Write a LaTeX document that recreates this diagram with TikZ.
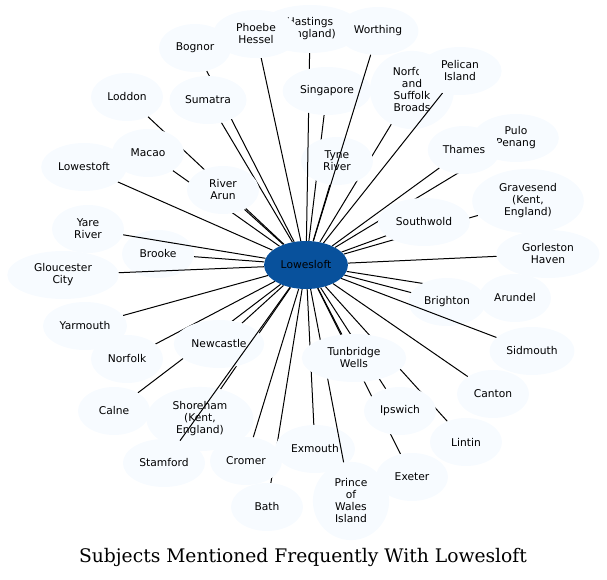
\documentclass[tikz,border=0pt]{standalone}
\usepackage{fontspec}
\usetikzlibrary{shapes.geometric}
\newfontfamily\placefont{DejaVu Sans}
\newfontfamily\captionfont{DejaVu Serif}
\definecolor{leaf}{HTML}{F7FBFF}
\definecolor{hubblue}{HTML}{08519C}
\pgfdeclarelayer{links}
\pgfdeclarelayer{under}
\pgfdeclarelayer{over}
\pgfdeclarelayer{front}
\pgfsetlayers{links,under,over,main,front}
\tikzset{
 place/.style={ellipse,fill=leaf,minimum width=72pt,minimum height=48pt,inner xsep=4.4pt,inner ysep=2pt,font=\placefont\fontsize{10.7}{12}\selectfont},
 multiplace/.style={place,align=center,inner xsep=10.5pt,inner ysep=5.5pt},
 hub/.style={place,fill=hubblue},
 link/.style={line width=1pt},
 caption/.style={font=\captionfont\fontsize{18.7}{22}\selectfont}
}
\begin{document}
\begin{tikzpicture}[x=1pt,y=-1pt]
\useasboundingbox (0,0) rectangle (607,580);
% places that some links run across
\begin{pgfonlayer}{under}
\node[multiplace] (hastings) at (310,29) {Hastings\\(England)};
\node[multiplace] (broads) at (412,90) {Norfolk\\and\\Suffolk\\Broads};
\node[multiplace] (tyne) at (337,161) {Tyne\\River};
\node[multiplace] (pulo) at (516,138) {Pulo\\Penang};
\node[place] (brooke) at (158,254) {Brooke};
\node[place] (brighton) at (447,302) {Brighton};
\node[place] (newcastle) at (219,344) {Newcastle};
\node[multiplace] (shoreham) at (200,419) {Shoreham\\(Kent,\\England)};
\node[place] (exmouth) at (315,449) {Exmouth};
\end{pgfonlayer}
% hub
\node[hub] (lowesloft) at (306,265) {Lowesloft};
% the other places
\node[place] (bognor) at (195,48) {Bognor};
\node[multiplace] (phoebe) at (256,34) {Phoebe\\Hessel};
\node[place] (worthing) at (378,31) {Worthing};
\node[place] (singapore) at (327,91) {Singapore};
\node[place] (sumatra) at (208,100) {Sumatra};
\node[place] (loddon) at (127,97) {Loddon};
\node[multiplace] (pelican) at (460,71) {Pelican\\Island};
\node[place] (macao) at (148,153) {Macao};
\node[place] (lowestoft) at (84,167) {Lowestoft};
\node[multiplace] (arun) at (223,190) {River\\Arun};
\node[place] (thames) at (464,150) {Thames};
\node[multiplace] (gravesend) at (528,201) {Gravesend\\(Kent,\\England)};
\node[place] (southwold) at (424,222) {Southwold};
\node[multiplace] (gorleston) at (548,254) {Gorleston\\Haven};
\node[multiplace] (yare) at (88,229) {Yare\\River};
\node[multiplace] (gloucester) at (63,275) {Gloucester\\City};
\node[place] (arundel) at (515,298) {Arundel};
\node[place] (yarmouth) at (85,326) {Yarmouth};
\node[place] (norfolk) at (127,359) {Norfolk};
\node[multiplace] (tunbridge) at (354,358) {Tunbridge\\Wells};
\node[place] (sidmouth) at (532,351) {Sidmouth};
\node[place] (canton) at (493,394) {Canton};
\node[place] (calne) at (114,411) {Calne};
\node[place] (ipswich) at (400,411) {Ipswich};
\node[place] (lintin) at (466,442) {Lintin};
\node[place] (stamford) at (164,463) {Stamford};
\node[place] (cromer) at (246,461) {Cromer};
\node[place] (exeter) at (412,477) {Exeter};
\node[place] (bath) at (267,507) {Bath};
\node[multiplace] (wales) at (351,501) {Prince\\of\\Wales\\Island};
% links
\begin{pgfonlayer}{links}
\foreach \p in {bognor,phoebe,sumatra,loddon,macao,lowestoft,arun,singapore,broads,tyne,
  thames,pulo,gravesend,southwold,gorleston,brooke,arundel,brighton,yarmouth,norfolk,
  newcastle,calne,shoreham,tunbridge,canton,ipswich,lintin,cromer,exmouth,exeter,bath}
  \draw[link] (lowesloft) -- (\p);
\end{pgfonlayer}
\begin{pgfonlayer}{over}
\foreach \p in {hastings,pelican,gloucester,yare,sidmouth,stamford,wales}
  \draw[link] (lowesloft) -- (\p);
\end{pgfonlayer}
\begin{pgfonlayer}{front}
\draw[link] (lowesloft) -- (worthing);
\end{pgfonlayer}
\node[caption] (title) at (303,557) {Subjects Mentioned Frequently With Lowesloft};
\end{tikzpicture}
\end{document}
